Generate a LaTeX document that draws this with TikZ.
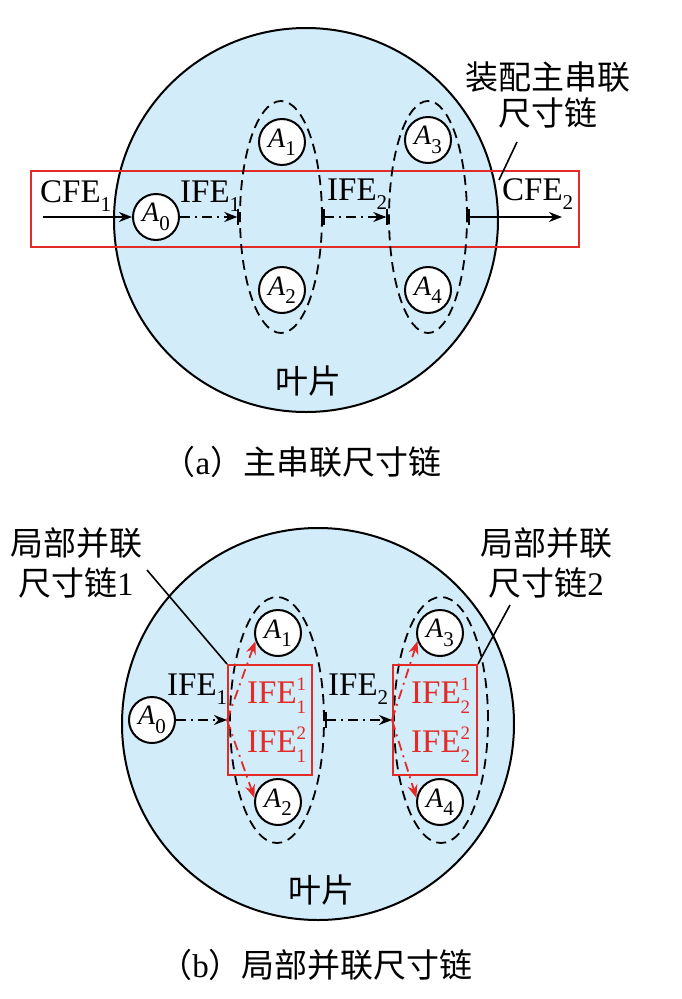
\documentclass[tikz,border=0pt]{standalone}
\usepackage{fontspec}
\setmainfont{Liberation Serif}
\newfontfamily\cjk{Noto Sans CJK SC}
\usetikzlibrary{arrows.meta,shapes.geometric,positioning,calc}
\definecolor{bladeblue}{RGB}{210,236,250}
\definecolor{chainred}{RGB}{226,42,38}
\newcommand\sbs[1]{\raisebox{-0.3em}{\fontsize{21}{21}\selectfont #1}}
\newcommand\sbsp[2]{\raisebox{-0.32em}{\fontsize{19}{23}\selectfont\begin{tabular}[b]{@{}l@{}}#2\\#1\end{tabular}}}
\begin{document}
\begin{tikzpicture}[
  x=1pt, y=-1pt,
  blade options/.style = {circle,draw=black,line width=2pt,fill=bladeblue,minimum size=#1,inner sep=0pt},
  part options/.style = {circle,draw=black,line width=2pt,fill=white,minimum size=46pt,inner sep=0pt,font=\fontsize{28}{28}\selectfont},
  group options/.style = {ellipse,draw=black,line width=1.8pt,dash pattern=on 10pt off 6pt,inner sep=0pt},
  chain options/.style = {rectangle,draw=chainred,line width=2pt,inner sep=0pt},
  label options/.style = {inner sep=0pt,font=\fontsize{33}{36}\selectfont},
  note options/.style = {inner sep=0pt,align=center,font=\cjk\fontsize{33}{40}\selectfont},
  fe options/.style = {line width=1.8pt},
  ife options/.style = {line width=1.8pt,dash pattern=on 10pt off 5pt on 2pt off 5pt},
  leader options/.style = {line width=1.6pt},
  ]
  \useasboundingbox (0,0) rectangle (681,999);
  % (a)
  \node[blade options=384pt] (bladeA) at (306,220) {};
  \node[note options] (leafA) at (308,381) {叶片};
  \node[chain options,minimum width=548pt,minimum height=76pt] (chainA) at (305,209) {};
  \node[group options,minimum width=82pt,minimum height=232pt] (ga1) at (281,217) {};
  \node[group options,minimum width=78pt,minimum height=232pt] (ga2) at (428,217) {};
  \foreach \n/\x/\y in {0/156/217,1/282/142,2/282/290,3/428/140,4/428/290}
    \node[part options] (a\n) at (\x,\y) {\textit{A}\sbs{\n}};
  \coordinate (cfe start) at (43,217);
  \coordinate (cfe end) at (562,217);
  \draw[fe options,-{Stealth[length=13pt,width=10pt]}] (cfe start) -- (a0);
  \draw[ife options,-{Stealth[length=13pt,width=10pt] Bar[width=16pt]}] (a0) -- (ga1.west);
  \draw[ife options,{Bar[width=16pt]}-{Stealth[length=13pt,width=10pt] Bar[width=16pt]}] (ga1.east) -- (ga2.west);
  \draw[fe options,{Bar[width=16pt]}-{Stealth[length=13pt,width=10pt]}] (ga2.east) -- (cfe end);
  \node[label options,anchor=base west] (cfe1) at (40,202) {CFE\sbs{1}};
  \node[label options,anchor=base west] (ifeA1) at (180,202) {IFE\sbs{1}};
  \node[label options,anchor=base west] (ifeA2) at (327,200) {IFE\sbs{2}};
  \node[label options,anchor=base west] (cfe2) at (502,200) {CFE\sbs{2}};
  \node[note options,font=\cjk\fontsize{33}{36}\selectfont] (mainA) at (548,95) {装配主串联\\尺寸链};
  \coordinate (lead a) at (517,142);
  \coordinate (lead a end) at (499,180);
  \draw[leader options] (lead a) -- (lead a end);
  \node[note options] (capA) at (302,462) {（\textrm{a}）主串联尺寸链};
  % (b)
  \node[blade options=392pt] (bladeB) at (318,724) {};
  \node[note options] (leafB) at (321,890) {叶片};
  \node[group options,minimum width=94pt,minimum height=246pt] (gb1) at (277,720) {};
  \node[group options,minimum width=94pt,minimum height=246pt] (gb2) at (441,720) {};
  \node[chain options,minimum width=84pt,minimum height=110pt] (chainB1) at (270,720) {};
  \node[chain options,minimum width=84pt,minimum height=110pt] (chainB2) at (435,720) {};
  \foreach \n/\x/\y in {0/152/720,1/278/633,2/278/802,3/440/633,4/440/802}
    \node[part options] (b\n) at (\x,\y) {\textit{A}\sbs{\n}};
  \draw[ife options,-{Stealth[length=13pt,width=10pt]}] (b0) -- (chainB1.west);
  \draw[ife options,{Bar[width=16pt]}-{Stealth[length=13pt,width=10pt]}] (gb1.east) -- (chainB2.west);
  \draw[ife options,chainred,-{Stealth[length=13pt,width=10pt]}] (chainB1.west) -- (b1.200);
  \draw[ife options,chainred,-{Stealth[length=13pt,width=10pt]}] (chainB1.west) -- (b2.170);
  \draw[ife options,chainred,-{Stealth[length=13pt,width=10pt]}] (chainB2.west) -- (b3.200);
  \draw[ife options,chainred,-{Stealth[length=13pt,width=10pt]}] (chainB2.west) -- (b4.170);
  \node[label options,anchor=base west] (ifeB1) at (167,695) {IFE\sbs{1}};
  \node[label options,anchor=base west] (ifeB2) at (328,695) {IFE\sbs{2}};
  \node[label options,chainred,anchor=base west] (ife11) at (247,703) {IFE\sbsp{1}{1}};
  \node[label options,chainred,anchor=base west] (ife12) at (247,752) {IFE\sbsp{1}{2}};
  \node[label options,chainred,anchor=base west] (ife21) at (411,703) {IFE\sbsp{2}{1}};
  \node[label options,chainred,anchor=base west] (ife22) at (411,752) {IFE\sbsp{2}{2}};
  \node[note options] (partB1) at (76,563) {局部并联\\尺寸链\textrm{1}};
  \node[note options] (partB2) at (546,563) {局部并联\\尺寸链\textrm{2}};
  \coordinate (lead b1) at (147,570);
  \coordinate (lead b2) at (510,605);
  \draw[leader options] (lead b1) -- (chainB1.north west);
  \draw[leader options] (lead b2) -- (chainB2.north east);
  \node[note options] (capB) at (316,965) {（\textrm{b}）局部并联尺寸链};
\end{tikzpicture}
\end{document}
